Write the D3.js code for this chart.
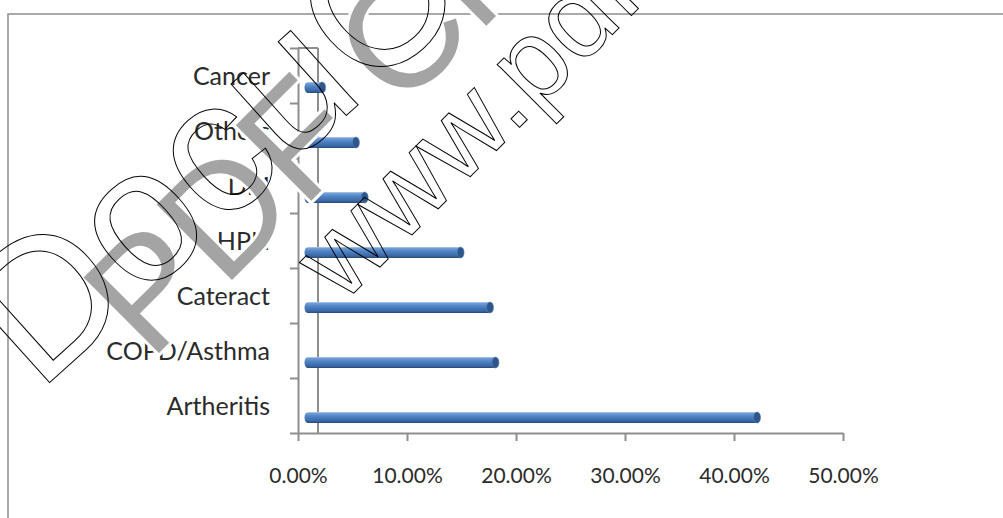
<!DOCTYPE html>
<html>
<head>
<meta charset="utf-8">
<script src="https://cdn.jsdelivr.net/npm/d3@7"></script>
<style>
  body { margin: 0; background: #fff; }
  svg { display: block; }
</style>
</head>
<body>
<svg id="chart" width="1003" height="518"></svg>
<script>
// Share of patients by condition (bottom to top)
const categories = ["Artheritis", "COPD/Asthma", "Cateract", "HPN", "DM", "Others", "Cancer"];
const shares = [0.412, 0.172, 0.167, 0.140, 0.052, 0.044, 0.013];
const tickValues = [0, 0.1, 0.2, 0.3, 0.4, 0.5];

const svg = d3.select("#chart");

const plot = { left: 298, right: 843, top: 48, bottom: 433 };
const depth = 20;          // back wall offset of the 3-D plot
const barDepth = 10;       // cylinders sit halfway into the depth
const barDrop = 12;        // perspective drop of the cylinders in each band
const barH = 11;

const x = d3.scaleLinear().domain([0, 0.5]).range([plot.left, plot.right]);
const y = d3.scaleBand().domain(categories).range([plot.bottom, plot.top]);
const edges = d3.scaleLinear().domain([0, categories.length]).range([plot.bottom, plot.top]);

const axisColor = "#8e8e8e";
const textColor = "#2b2b2b";
const font = "Lato, 'Open Sans', sans-serif";
const wmFont = "'Liberation Sans', Arial, sans-serif";

// gradients for the cylinders
const defs = svg.append("defs");
const body = defs.append("linearGradient").attr("id", "cyl").attr("x1", 0).attr("y1", 0).attr("x2", 0).attr("y2", 1);
[[0, "#b9cfeb"], [0.14, "#6c9bd6"], [0.45, "#4c7fc0"], [0.8, "#3b69a4"], [1, "#26497a"]]
  .forEach(([o, c]) => body.append("stop").attr("offset", o).attr("stop-color", c));
defs.append("filter").attr("id", "soft")
  .append("feGaussianBlur").attr("stdDeviation", 0.45);

// chart frame
svg.append("rect")
  .attr("x", 8).attr("y", 14).attr("width", 1100).attr("height", 600)
  .attr("fill", "none").attr("stroke", axisColor).attr("stroke-width", 1.5);

// category labels
svg.append("g").selectAll("text").data(categories).join("text")
  .attr("x", 270)
  .attr("y", d => y(d) + y.bandwidth() / 2 + 9)
  .attr("text-anchor", "end")
  .attr("font-family", font).attr("font-size", 25)
  .attr("fill", textColor)
  .text(d => d);

// back wall edge
const axes = svg.append("g");
axes.append("line")
  .attr("x1", plot.left + depth).attr("x2", plot.left + depth)
  .attr("y1", plot.top).attr("y2", plot.bottom)
  .attr("stroke", axisColor).attr("stroke-width", 2);
axes.append("line")
  .attr("x1", plot.left).attr("x2", plot.left + depth)
  .attr("y1", plot.top).attr("y2", plot.top)
  .attr("stroke", axisColor).attr("stroke-width", 2);

// category axis: ticks at band edges
const yAxis = axes.append("g").attr("transform", `translate(${plot.left},0)`)
  .call(d3.axisLeft(edges).tickValues(d3.range(categories.length + 1)).tickSize(8).tickSizeOuter(0).tickFormat(""));

// value axis
const xAxis = axes.append("g").attr("transform", `translate(0,${plot.bottom})`)
  .call(d3.axisBottom(x).tickValues(tickValues).tickSize(8).tickSizeOuter(0).tickFormat(d3.format(".2%")));
xAxis.selectAll("text")
  .attr("y", 50).attr("dy", 0)
  .attr("font-family", font).attr("font-size", 21)
  .attr("fill", textColor);

[yAxis, xAxis].forEach(g => {
  g.selectAll("path, line").attr("stroke", axisColor).attr("stroke-width", 2);
});

// cylinders
const bars = svg.append("g").attr("filter", "url(#soft)")
  .selectAll("g").data(categories).join("g")
  .attr("transform", (d) => `translate(0,${y(d) + y.bandwidth() / 2 + barDrop})`);

bars.append("rect")
  .attr("x", x(0) + barDepth)
  .attr("y", -barH / 2)
  .attr("width", (d, i) => x(shares[i]) - x(0))
  .attr("height", barH)
  .attr("fill", "url(#cyl)");
bars.append("ellipse")
  .attr("cx", x(0) + barDepth).attr("cy", 0)
  .attr("rx", 3.5).attr("ry", barH / 2)
  .attr("fill", "url(#cyl)");
bars.append("ellipse")
  .attr("cx", (d, i) => x(shares[i]) + barDepth).attr("cy", 0)
  .attr("rx", 3.5).attr("ry", barH / 2)
  .attr("fill", "#2d5688").attr("stroke", "#5a86bf").attr("stroke-width", 0.6);

// watermark: gray lettering with a white halo, then outlined lettering
svg.append("text")
  .attr("transform", "translate(150,362) rotate(-45)")
  .attr("font-family", wmFont).attr("font-size", 155)
  .attr("fill", "#a4a4a4").attr("stroke", "#fff").attr("stroke-width", 6)
  .attr("stroke-linejoin", "round").attr("paint-order", "stroke")
  .text("PDF Creator");
svg.append("text")
  .attr("transform", "translate(38,393) rotate(-42)")
  .attr("font-family", wmFont).attr("font-size", 190)
  .attr("fill", "none").attr("stroke", "#000").attr("stroke-width", 1)
  .text("DocuCom");
svg.append("text")
  .attr("transform", "translate(342,305) rotate(-45)")
  .attr("font-family", wmFont).attr("font-size", 114)
  .attr("fill", "none").attr("stroke", "#000").attr("stroke-width", 1)
  .text("www.pdfwizard.com");
</script>
</body>
</html>
